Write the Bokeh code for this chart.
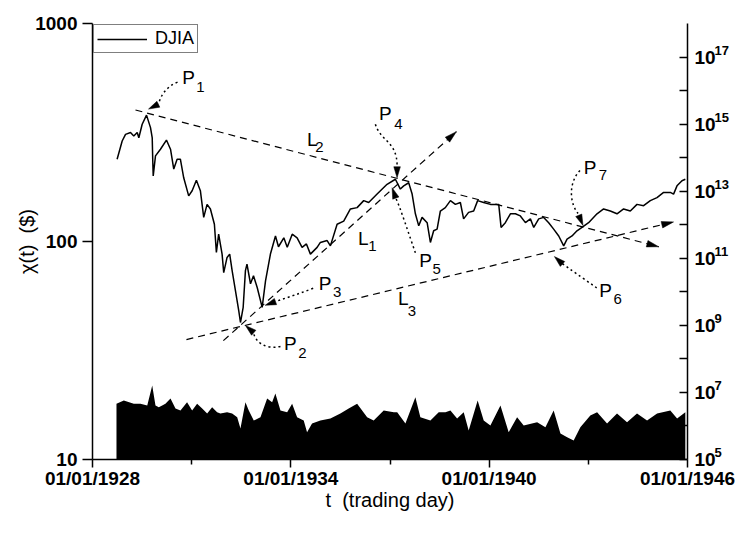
import math
from datetime import datetime
from bokeh.plotting import figure
from bokeh.models import (Range1d, LogAxis, LogScale, FixedTicker, DatetimeTickFormatter,
                          CustomJSTickFormatter, Legend, LegendItem, Label)
from bokeh.embed import file_html
from bokeh.resources import INLINE

# ---------------- data ----------------
djia_dates = [
    "1928-09-29", "1928-11-24", "1928-12-31", "1929-02-24", "1929-04-01", "1929-05-09", "1929-05-27", "1929-07-03", "1929-08-20", "1929-10-03",
    "1929-10-22", "1929-10-28", "1929-11-02", "1929-11-27", "1930-01-21", "1930-03-28", "1930-05-12", "1930-06-17", "1930-07-24", "1930-08-29",
    "1930-10-05", "1930-11-29", "1931-01-06", "1931-02-22", "1931-04-07", "1931-05-14", "1931-06-20", "1931-07-27", "1931-09-09", "1931-10-01",
    "1931-10-26", "1931-12-03", "1931-12-21", "1932-01-27", "1932-02-25", "1932-03-23", "1932-04-29", "1932-06-04", "1932-06-23", "1932-07-23",
    "1932-08-17", "1932-09-03", "1932-10-12", "1932-11-14", "1932-12-25", "1933-02-18", "1933-03-27", "1933-05-21", "1933-07-15", "1933-08-17",
    "1933-10-15", "1933-11-22", "1934-01-16", "1934-03-11", "1934-05-05", "1934-06-22", "1934-08-05", "1934-10-18", "1934-11-23", "1935-02-06",
    "1935-03-14", "1935-05-27", "1935-08-08", "1935-10-21", "1936-01-03", "1936-03-16", "1936-05-10", "1936-08-11", "1936-11-29", "1937-03-01",
    "1937-04-25", "1937-06-01", "1937-07-26", "1937-09-02", "1937-10-08", "1937-11-14", "1937-12-21", "1938-02-15", "1938-03-23", "1938-04-28",
    "1938-06-05", "1938-07-11", "1938-09-04", "1938-10-30", "1938-12-24", "1939-02-17", "1939-03-25", "1939-05-19", "1939-07-14", "1939-08-27",
    "1939-11-01", "1940-01-15", "1940-04-16", "1940-05-12", "1940-06-28", "1940-08-23", "1940-10-17", "1940-12-11", "1941-02-05", "1941-04-01",
    "1941-05-08", "1941-07-02", "1941-08-26", "1941-10-20", "1941-12-14", "1942-02-08", "1942-04-04", "1942-05-11", "1942-07-05", "1942-08-29",
    "1942-10-23", "1943-01-04", "1943-04-07", "1943-06-19", "1943-09-01", "1943-11-14", "1944-01-26", "1944-04-09", "1944-06-22", "1944-09-03",
    "1944-11-16", "1945-01-29", "1945-04-12", "1945-06-25", "1945-07-31", "1945-09-07", "1945-11-01", "1945-12-08"]
djia_values = [
    238.5, 289, 310, 316, 305, 316, 299, 345, 380, 333,
    299, 234, 200, 247, 265, 292, 265, 215, 238.5, 238.5,
    196, 162, 171, 191, 171, 129, 148, 141, 120, 89,
    108, 87.5, 72, 84.5, 87.5, 73.5, 59.4, 48.2, 42.5, 49.9,
    73.5, 78.7, 64, 69.7, 61.5, 49.9, 66, 87.9, 106, 94.6,
    104, 94, 108, 104, 94, 97.5, 87.5, 94, 99, 101,
    95.5, 120, 124, 141, 143, 154, 151, 165, 183, 193,
    174, 180, 186, 165, 134, 118, 129, 122, 99, 112,
    114, 138, 143, 154, 148, 151, 127, 136, 138, 154,
    151, 148, 148, 116, 122, 134, 134, 131, 122, 127,
    116, 127, 129, 122, 114, 106, 95.5, 102.6, 106, 112,
    116, 122, 134, 141, 138, 134, 141, 138, 148, 146,
    154, 159, 168, 168, 165, 180, 190, 193]

vol_dates = [
    "1928-09-22", "1928-12-12", "1929-04-01", "1929-06-14", "1929-08-28", "1929-10-22", "1929-11-27", "1930-01-03", "1930-03-17", "1930-05-12",
    "1930-07-06", "1930-08-30", "1930-11-11", "1931-01-06", "1931-03-02", "1931-04-27", "1931-06-21", "1931-08-15", "1931-10-09", "1931-11-14",
    "1932-01-27", "1932-03-23", "1932-05-18", "1932-06-23", "1932-08-17", "1932-09-23", "1932-11-17", "1933-01-30", "1933-04-14", "1933-06-08",
    "1933-07-14", "1933-09-08", "1933-11-21", "1934-01-15", "1934-03-11", "1934-05-23", "1934-06-29", "1934-08-23", "1934-11-23", "1935-03-14",
    "1935-07-02", "1935-10-02", "1936-01-03", "1936-04-23", "1936-07-04", "1936-10-23", "1937-02-11", "1937-03-21", "1937-06-20", "1937-10-08",
    "1937-12-02", "1938-03-23", "1938-06-23", "1938-09-05", "1938-10-30", "1939-01-12", "1939-03-26", "1939-05-20", "1939-08-27", "1939-11-02",
    "1940-01-15", "1940-05-05", "1940-08-04", "1940-11-05", "1941-01-17", "1941-06-14", "1941-09-14", "1941-12-14", "1942-02-27", "1942-05-12",
    "1942-07-23", "1942-10-05", "1943-01-23", "1943-04-08", "1943-07-27", "1943-11-14", "1944-03-04", "1944-06-22", "1944-10-11", "1945-01-30",
    "1945-06-25", "1945-09-08", "1945-12-08"]
vol_values = [
    4.57e6, 5.7e6, 4.57e6, 4.57e6, 4.06e6, 1.6e7, 4.06e6, 3.6e6, 4.57e6, 6.6e6,
    3.3e6, 2.9e6, 5.1e6, 2.9e6, 4.57e6, 3.3e6, 2.35e6, 3.6e6, 2.57e6, 2.35e6,
    2.57e6, 2.35e6, 1.82e6, 8.4e5, 5.1e6, 2.9e6, 1.45e6, 1.82e6, 6.6e6, 5.1e6,
    9.3e6, 2.9e6, 2.57e6, 4.57e6, 1.82e6, 1.45e6, 6.5e5, 1.18e6, 1.45e6, 1.67e6,
    2.35e6, 3.3e6, 4.57e6, 1.82e6, 1.45e6, 2.9e6, 2.57e6, 2.57e6, 1.18e6, 7.2e6,
    1.82e6, 1.45e6, 2.57e6, 2.57e6, 2.9e6, 1.67e6, 2.57e6, 7.3e5, 5.7e6, 1.45e6,
    1.03e6, 4.06e6, 6.5e5, 1.82e6, 1.03e6, 1.29e6, 9.2e5, 2.9e6, 5.95e5, 4.6e5,
    3.7e5, 9.2e5, 2.05e6, 2.57e6, 1.18e6, 2.35e6, 1.29e6, 2.35e6, 1.45e6, 2.35e6,
    2.9e6, 1.67e6, 2.57e6]

# trend lines L1, L2, L3 (end points)
l1_dates, l1_values = ["1931-12-17", "1939-01-04"], [35.1, 319]
l2_dates, l2_values = ["1929-04-20", "1945-02-17"], [401, 94.6]
l3_dates, l3_values = ["1930-11-04", "1945-07-31"], [35.5, 123]

# points marked P1..P7
p_dates = ["1929-08-20", "1932-06-23", "1933-02-18", "1937-03-01", "1937-07-26", "1942-04-04", "1942-10-23"]

x_ticks = ["1928-01-01", "1934-01-01", "1940-01-01", "1946-01-01"]
x_minor_ticks = ["1931-01-01", "1937-01-01", "1943-01-01"]
y_ticks = [10, 100, 1000]
vol_ticks = [1e5, 1e7, 1e9, 1e11, 1e13, 1e15, 1e17]
vol_minor_ticks = [1e6, 1e8, 1e10, 1e12, 1e14, 1e16]

# ---------------- helpers ----------------
EPOCH = datetime(1970, 1, 1)


def ms(s):
    return (datetime.strptime(s, "%Y-%m-%d") - EPOCH).total_seconds() * 1000.0


T0, T1 = ms(x_ticks[0]), ms(x_ticks[-1])
Y_LO, Y_HI = 10, 1000
V_LO, V_HI = 1e5, 1e18
FW, FH = 595, 436
DEC = math.log10(Y_HI) - math.log10(Y_LO)
VDEC = math.log10(V_HI) - math.log10(V_LO)


def to_px(t, v):
    return ((t - T0) / (T1 - T0) * FW, (math.log10(Y_HI) - math.log10(v)) / DEC * FH)


def from_px(x, y):
    return (T0 + x / FW * (T1 - T0), 10 ** (math.log10(Y_HI) - y / FH * DEC))


def offset(anchor, dx, dy):
    x, y = to_px(*anchor)
    return from_px(x + dx, y + dy)


def head(tip_px, back_px, length=12.0, half=3.3):
    tx, ty = tip_px
    bx, by = back_px
    dx, dy = tx - bx, ty - by
    L = math.hypot(dx, dy)
    ux, uy = dx / L, dy / L
    cx, cy = tx - ux * length, ty - uy * length
    nx, ny = -uy, ux
    pts = [(tx, ty), (cx + nx * half, cy + ny * half), (cx - nx * half, cy - ny * half)]
    d = [from_px(*q) for q in pts]
    return [q[0] for q in d], [q[1] for q in d]


FONT = "Liberation Sans"
NB = "\u00a0"

p = figure(width=739, height=533, x_axis_type="datetime", y_axis_type="log",
           x_range=Range1d(T0, T1), y_range=Range1d(Y_LO, Y_HI),
           output_backend="svg", toolbar_location=None,
           min_border_left=92, min_border_right=52, min_border_top=23, min_border_bottom=74)
p.outline_line_color = None
p.xgrid.visible = False
p.ygrid.visible = False
p.background_fill_color = "white"
p.border_fill_color = "white"

# superscript axis is the volume axis shifted up by 7 px
SUP = 10 ** (7.0 / FH * VDEC)
p.extra_y_ranges = {"vol": Range1d(V_LO, V_HI), "volsup": Range1d(V_LO / SUP, V_HI / SUP)}
p.extra_y_scales = {"vol": LogScale(), "volsup": LogScale()}

# volume (right axis)
p.varea(x=[ms(d) for d in vol_dates], y1=V_LO, y2=vol_values, y_range_name="vol",
        fill_color="black", fill_alpha=1.0)

# DJIA
djia_ms = [ms(d) for d in djia_dates]
r_djia = p.line(djia_ms, djia_values, line_color="black", line_width=1.5)


def text_label(x, y, text, size):
    p.add_layout(Label(x=x, y=y, text=text, text_font=FONT, text_font_size=size, text_color="black",
                       text_align="center", text_baseline="middle"))


# trend lines with arrow heads
hx, hy = [], []
trend_labels = [("1", l1_dates, l1_values, 0.601, (0, 23), (9, 31)),
                ("2", l2_dates, l2_values, 0.338, (0, -17), (7, -9)),
                ("3", l3_dates, l3_values, 0.445, (0, 11.5), (8.7, 23.5))]
for sub, dts, vals, frac, loff, soff in trend_labels:
    xs = [ms(d) for d in dts]
    p.line(xs, vals, line_color="black", line_width=1.2, line_dash="7 5")
    a = to_px(xs[0], vals[0])
    b = to_px(xs[1], vals[1])
    tx, ty = head(b, a)
    hx.append(tx)
    hy.append(ty)
    mx, my = a[0] + frac * (b[0] - a[0]), a[1] + frac * (b[1] - a[1])
    text_label(*from_px(mx + loff[0], my + loff[1]), "L", "19px")
    text_label(*from_px(mx + soff[0], my + soff[1]), sub, "15px")

# callouts P1..P7: label offset, subscript offset, dotted curve (start, c0, c1, end), arrow tip (pixels)
callouts = [
    ((42, -38), (54, -28), [(31, -33), (19, -28), (14, -19), (12, -11)], (2, -6)),
    ((50, 21), (62, 30), [(40, 24), (25, 27), (15, 20), (13, 10)], (5, 3)),
    ((63, -24), (75, -15), [(51, -19), (38, -14), (26, -10), (14, -6)], (3, -2)),
    ((-10, -66), (3, -55), [(-20, -55), (-15, -38), (2, -38), (1.7, -13)], (1.7, -1.5)),
    ((17, 78), (28, 86), [(6.7, 70), (0, 51), (-8, 26), (-13, 15)], (-16.6, 5)),
    ((42, 45), (54, 53), [(33, 42), (23, 35), (13, 28), (-1.6, 17.7)], (-9.3, 10.7)),
    ((8, -60), (21, -52), [(-2, -57), (-12, -47), (-14, -27), (-4, -14)], (1, -2)),
]
bz = {k: [] for k in ("x0", "y0", "x1", "y1", "cx0", "cy0", "cx1", "cy1")}
for i, (pd_, (loff, soff, curve, tip)) in enumerate(zip(p_dates, callouts)):
    anchor = (ms(pd_), djia_values[djia_dates.index(pd_)])
    ax_, ay_ = to_px(*anchor)
    s, c0, c1, e = [offset(anchor, *q) for q in curve]
    bz["x0"].append(s[0]); bz["y0"].append(s[1])
    bz["cx0"].append(c0[0]); bz["cy0"].append(c0[1])
    bz["cx1"].append(c1[0]); bz["cy1"].append(c1[1])
    bz["x1"].append(e[0]); bz["y1"].append(e[1])
    tx, ty = head((ax_ + tip[0], ay_ + tip[1]), (ax_ + curve[3][0], ay_ + curve[3][1]), length=11, half=3.3)
    hx.append(tx)
    hy.append(ty)
    text_label(*offset(anchor, *loff), "P", "19px")
    text_label(*offset(anchor, *soff), str(i + 1), "15px")

p.bezier(line_color="black", line_width=1.5, line_dash="2 3", **bz)
p.patches(hx, hy, fill_color="black", line_color="black", line_width=0.5)

# ---------------- axes ----------------
xa = p.xaxis[0]
xa.ticker = FixedTicker(ticks=[ms(d) for d in x_ticks], minor_ticks=[ms(d) for d in x_minor_ticks])
fmt = "%m/%d/%Y"
xa.formatter = DatetimeTickFormatter(microseconds=fmt, milliseconds=fmt, seconds=fmt, minsec=fmt,
                                     minutes=fmt, hourmin=fmt, hours=fmt, days=fmt, months=fmt, years=fmt)
xa.axis_label = "t" + NB + NB + "(trading day)"
xa.major_tick_out = 8
xa.major_tick_in = 0
xa.minor_tick_out = 5
xa.minor_tick_in = 0
xa.major_label_standoff = 0
xa.axis_label_standoff = -3

ya = p.yaxis[0]
ya.ticker = FixedTicker(ticks=y_ticks, minor_ticks=[])
ya.formatter = CustomJSTickFormatter(code="return Math.round(tick).toString();")
ya.axis_label = "\u03c7(t)" + NB + NB + "($)"
ya.major_tick_out = 10
ya.major_tick_in = 0
ya.major_label_standoff = 5
ya.axis_label_standoff = -6

# right axis: "10" as tick label; exponents on a second (line-less) axis shifted up as superscripts
ra = LogAxis(y_range_name="vol",
             ticker=FixedTicker(ticks=vol_ticks, minor_ticks=vol_minor_ticks),
             formatter=CustomJSTickFormatter(code="return '10';"))
ra.major_tick_in = 8
ra.major_tick_out = 0
ra.minor_tick_in = 8
ra.minor_tick_out = 0
ra.major_label_standoff = 7
p.add_layout(ra, "right")

sa = LogAxis(y_range_name="volsup",
             ticker=FixedTicker(ticks=vol_ticks, minor_ticks=[]),
             formatter=CustomJSTickFormatter(code="return Math.round(Math.log10(tick)).toString();"))
sa.axis_line_color = None
sa.major_tick_line_color = None
sa.minor_tick_line_color = None
sa.major_tick_in = 0
sa.major_tick_out = 0
sa.major_label_standoff = -4
sa.major_label_text_font = FONT
sa.major_label_text_font_style = "bold"
sa.major_label_text_font_size = "13px"
sa.major_label_text_color = "black"
p.add_layout(sa, "right")

for ax in (xa, ya, ra):
    ax.axis_line_color = "black"
    ax.axis_line_width = 1.5
    ax.major_tick_line_color = "black"
    ax.major_tick_line_width = 1.5
    ax.minor_tick_line_color = "black"
    ax.minor_tick_line_width = 1.5
    ax.major_label_text_font = FONT
    ax.major_label_text_font_style = "bold"
    ax.major_label_text_font_size = "19px"
    ax.major_label_text_color = "black"
    ax.axis_label_text_font = FONT
    ax.axis_label_text_font_style = "normal"
    ax.axis_label_text_font_size = "20px"
    ax.axis_label_text_color = "black"

legend = Legend(items=[LegendItem(label="DJIA", renderers=[r_djia])], location="top_left",
                margin=1, padding=3, spacing=0, glyph_width=50, glyph_height=18, label_height=18,
                label_standoff=8, label_text_font=FONT, label_text_font_size="18px", label_text_color="black",
                border_line_color="black", border_line_width=1, background_fill_alpha=1.0)
p.add_layout(legend)

open("out.html", "w", encoding="utf-8").write(file_html(p, INLINE))
